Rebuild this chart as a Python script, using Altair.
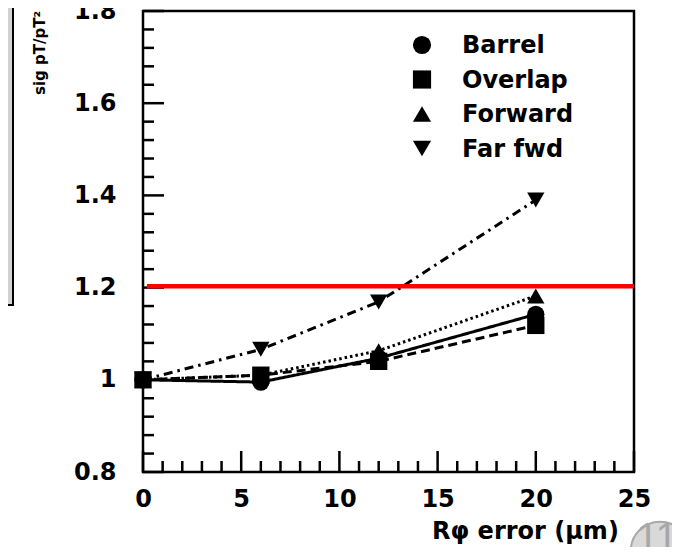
import altair as alt
import pandas as pd

# ---- data ----
x_err = [0, 6, 12, 20]
barrel = [1.0, 0.995, 1.047, 1.142]
overlap = [1.0, 1.01, 1.04, 1.118]
forward = [1.0, 1.01, 1.063, 1.182]
far_fwd = [1.0, 1.066, 1.169, 1.39]
series_names = ["Barrel", "Overlap", "Forward", "Far fwd"]
series_shapes = ["circle", "square", "triangle-up", "triangle-down"]
series_dashes = [[1, 0], [9, 5], [2.5, 3], [9, 5, 2.5, 5]]
limit_value = 1.203

x_ticks = [0, 5, 10, 15, 20, 25]
y_ticks = [0.8, 1.0, 1.2, 1.4, 1.6, 1.8]
x_minor = [v for v in range(26) if v % 5]
y_minor = [round(0.8 + 0.04 * i, 2) for i in range(26) if i % 5]

y_title = "sig pT/pT²"
x_title = "Rφ error (μm)"
slide_no = "11"

W, H = 491, 461
FONT = "DejaVu Sans"

rows = []
for name, vals in zip(series_names, [barrel, overlap, forward, far_fwd]):
    for xv, yv in zip(x_err, vals):
        rows.append({"series": name, "style": name, "x": xv, "y": yv})
df = pd.DataFrame(rows)

xs = alt.Scale(domain=[0, 25], nice=False, zero=False)
ys = alt.Scale(domain=[0.8, 1.8], nice=False, zero=False)

base = alt.Chart(df)

lines = base.mark_line(color="black", strokeWidth=3).encode(
    x=alt.X("x:Q", scale=xs,
            axis=alt.Axis(values=x_ticks, tickSize=0, domain=False, grid=False,
                          labelFont=FONT, labelFontSize=24, labelFontWeight="bold",
                          labelColor="black", labelPadding=15, title=None,
                          labelFlush=False)),
    y=alt.Y("y:Q", scale=ys,
            axis=alt.Axis(values=y_ticks, tickSize=0, domain=False, grid=False,
                          labelFont=FONT, labelFontSize=24, labelFontWeight="bold",
                          labelColor="black", labelPadding=27, title=None,
                          labelFlush=False,
                          labelExpr="datum.value == 1 ? '1' : format(datum.value, '.1f')")),
    strokeDash=alt.StrokeDash("style:N",
                              scale=alt.Scale(domain=series_names, range=series_dashes),
                              legend=None),
    detail="series:N",
)

points = base.mark_point(filled=True, size=300, opacity=1, color="black").encode(
    x=alt.X("x:Q", scale=xs),
    y=alt.Y("y:Q", scale=ys),
    shape=alt.Shape("series:N",
                    scale=alt.Scale(domain=series_names, range=series_shapes),
                    legend=None),
)

# legend drawn as a small key (symbol + label per series)
legend_layers = []
for i, (name, shp) in enumerate(zip(series_names, series_shapes)):
    ly = 34 + 34.5 * i
    legend_layers.append(
        alt.Chart(pd.DataFrame({"t": [name]})).mark_point(
            shape=shp, filled=True, size=330, opacity=1, color="black").encode(
            x=alt.value(279), y=alt.value(ly)))
    legend_layers.append(
        alt.Chart(pd.DataFrame({"t": [name]})).mark_text(
            align="left", baseline="middle", font=FONT, fontSize=24,
            fontWeight="bold", color="black").encode(
            text="t:N", x=alt.value(319), y=alt.value(ly + 1)))

# red limit line
limit = alt.Chart(pd.DataFrame({"y": [limit_value], "x": [0.2], "x2": [25]})).mark_rule(
    color="#ff0000", strokeWidth=4.5).encode(
    x=alt.X("x:Q", scale=xs), x2="x2:Q", y=alt.Y("y:Q", scale=ys))

# inward tick marks
ymaj = alt.Chart(pd.DataFrame({"v": y_ticks})).mark_rule(color="black", strokeWidth=2.5).encode(
    y=alt.Y("v:Q", scale=ys), x=alt.value(0), x2=alt.value(21))
ymin = alt.Chart(pd.DataFrame({"v": y_minor})).mark_rule(color="black", strokeWidth=2.5).encode(
    y=alt.Y("v:Q", scale=ys), x=alt.value(0), x2=alt.value(11))
xmaj = alt.Chart(pd.DataFrame({"v": x_ticks})).mark_rule(color="black", strokeWidth=2.5).encode(
    x=alt.X("v:Q", scale=xs), y=alt.value(H), y2=alt.value(H - 21))
xmin = alt.Chart(pd.DataFrame({"v": x_minor})).mark_rule(color="black", strokeWidth=2.5).encode(
    x=alt.X("v:Q", scale=xs), y=alt.value(H), y2=alt.value(H - 11))

# slide decorations
gray_box = alt.Chart(pd.DataFrame({"a": [0]})).mark_rect(color="#d2d2d6").encode(
    x=alt.value(-135), x2=alt.value(-130), y=alt.value(-3), y2=alt.value(294))
box_edge_v = alt.Chart(pd.DataFrame({"a": [0]})).mark_rule(color="black", strokeWidth=2).encode(
    x=alt.value(-130), y=alt.value(-3), y2=alt.value(295))
box_edge_h = alt.Chart(pd.DataFrame({"a": [0]})).mark_rule(color="black", strokeWidth=2).encode(
    x=alt.value(-135), x2=alt.value(-130), y=alt.value(294))

ytitle = alt.Chart(pd.DataFrame({"t": [y_title]})).mark_text(
    angle=270, align="left", baseline="middle", font=FONT, fontSize=15,
    fontWeight="bold", color="black").encode(
    text="t:N", x=alt.value(-103), y=alt.value(84))

xtitle = alt.Chart(pd.DataFrame({"t": [x_title]})).mark_text(
    align="left", baseline="alphabetic", font=FONT, fontSize=24,
    fontWeight="bold", color="black").encode(
    text="t:N", x=alt.value(289), y=alt.value(528))

circle = alt.Chart(pd.DataFrame({"a": [0]})).mark_point(
    shape="circle", filled=True, size=3421, fill="#d9d9d9", stroke="#a8a8a8",
    strokeWidth=2, opacity=1).encode(x=alt.value(517), y=alt.value(540))

num = alt.Chart(pd.DataFrame({"t": [slide_no]})).mark_text(
    align="center", baseline="middle", font="Liberation Sans", fontSize=40,
    color="#a8a8a8").encode(text="t:N", x=alt.value(514), y=alt.value(528))

chart = alt.layer(
    gray_box, box_edge_v, box_edge_h, ytitle,
    ymin, ymaj, xmin, xmaj,
    lines, points, limit,
    *legend_layers,
    xtitle, circle, num,
).properties(
    width=W, height=H,
    padding={"left": 135, "top": 3, "right": 38, "bottom": 75},
    autosize=alt.AutoSizeParams(type="none"),
).configure(
    background="white"
).configure_view(
    stroke="black", strokeWidth=2.5
)

chart.save("out.html", embed_options={"renderer": "svg", "actions": False})
